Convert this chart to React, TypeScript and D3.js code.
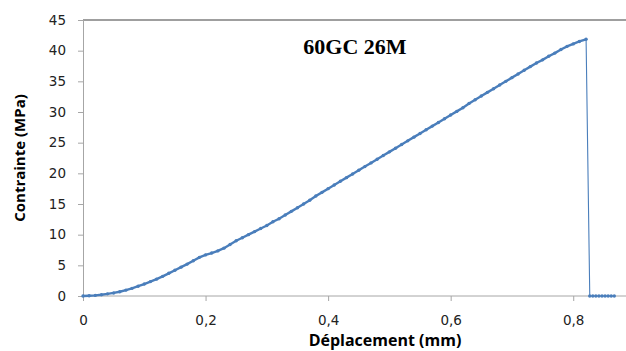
import { useEffect, useRef } from "react";
import * as d3 from "d3";

// Courbe contrainte / déplacement
const deplacement = [
  0, 0.01, 0.02, 0.03, 0.04, 0.05, 0.06, 0.07, 0.08, 0.09, 0.1, 0.11, 0.12,
  0.13, 0.14, 0.15, 0.16, 0.17, 0.18, 0.19, 0.2, 0.21, 0.22, 0.23, 0.24, 0.25,
  0.26, 0.27, 0.28, 0.29, 0.3, 0.31, 0.32, 0.33, 0.34, 0.35, 0.36, 0.37, 0.38,
  0.39, 0.4, 0.41, 0.42, 0.43, 0.44, 0.45, 0.46, 0.47, 0.48, 0.49, 0.5, 0.51,
  0.52, 0.53, 0.54, 0.55, 0.56, 0.57, 0.58, 0.59, 0.6, 0.61, 0.62, 0.63, 0.64,
  0.65, 0.66, 0.67, 0.68, 0.69, 0.7, 0.71, 0.72, 0.73, 0.74, 0.75, 0.76, 0.77,
  0.78, 0.79, 0.8, 0.81, 0.821, 0.827, 0.832, 0.837, 0.842, 0.847, 0.852,
  0.857, 0.862, 0.867,
];
const contrainte = [
  0, 0.05, 0.1, 0.2, 0.35, 0.5, 0.7, 0.95, 1.25, 1.6, 1.95, 2.35, 2.75, 3.2,
  3.7, 4.2, 4.7, 5.2, 5.75, 6.3, 6.7, 7.0, 7.35, 7.8, 8.4, 9.0, 9.5, 10.0,
  10.5, 11.0, 11.5, 12.1, 12.6, 13.2, 13.8, 14.4, 15.0, 15.6, 16.3, 16.9,
  17.5, 18.1, 18.7, 19.3, 19.9, 20.5, 21.1, 21.7, 22.3, 22.9, 23.5, 24.1,
  24.7, 25.3, 25.9, 26.5, 27.1, 27.7, 28.3, 28.9, 29.5, 30.1, 30.7, 31.4,
  32.0, 32.6, 33.2, 33.8, 34.4, 35.0, 35.6, 36.2, 36.8, 37.4, 38.0, 38.5,
  39.1, 39.6, 40.2, 40.7, 41.1, 41.5, 41.85, 0, 0, 0, 0, 0, 0, 0, 0, 0,
];
const yTicks = [0, 5, 10, 15, 20, 25, 30, 35, 40, 45];
const xTicks = [0, 0.2, 0.4, 0.6, 0.8];

export default function App() {
  const svgRef = useRef<SVGSVGElement>(null);
  const width = 626;
  const height = 351;

  useEffect(() => {
    const svg = d3.select(svgRef.current);
    svg.selectAll("*").remove();

    const data = deplacement.map((d, i) => ({ x: d, y: contrainte[i] }));
    // indice du pic (rupture)
    const iPic = d3.maxIndex(data, (d) => d.y);

    const x = d3.scaleLinear().domain([0, 0.9]).range([83, 634.5]);
    const y = d3.scaleLinear().domain([0, 45]).range([296, 20]);

    const tickFont = "DejaVu Sans, Verdana, sans-serif";

    // Bordure du haut
    svg
      .append("line")
      .attr("x1", 83)
      .attr("x2", width)
      .attr("y1", y(45))
      .attr("y2", y(45))
      .attr("stroke", "#404040")
      .attr("stroke-width", 1.2);

    // Axe Y
    const gy = svg
      .append("g")
      .attr("transform", `translate(${x(0)},0)`)
      .call(d3.axisLeft(y).tickValues(yTicks).tickSize(5).tickPadding(12));
    gy.selectAll("path,line").attr("stroke", "#a6a6a6");
    gy.selectAll("text")
      .style("font-family", tickFont)
      .style("font-size", "13.5px")
      .attr("fill", "#222");

    // Axe X
    const gx = svg
      .append("g")
      .attr("transform", `translate(0,${y(0)})`)
      .call(
        d3
          .axisBottom(x)
          .tickValues(xTicks)
          .tickSize(5)
          .tickPadding(14)
          .tickFormat((d) => (d === 0 ? "0" : d3.format(".1f")(d as number).replace(".", ",")))
      );
    gx.select("path").attr("d", `M${x(0)},0H${width}`).attr("stroke", "#a6a6a6");
    gx.selectAll("line").attr("stroke", "#a6a6a6");
    gx.selectAll("text")
      .style("font-family", tickFont)
      .style("font-size", "13.5px")
      .attr("fill", "#222");

    // Courbe
    const line = d3
      .line<{ x: number; y: number }>()
      .x((d) => x(d.x))
      .y((d) => y(d.y));

    svg
      .append("path")
      .datum(data.slice(0, iPic + 1))
      .attr("d", line)
      .attr("fill", "none")
      .attr("stroke", "#4a7ebb")
      .attr("stroke-width", 2.4);

    // chute après rupture, trait fin
    svg
      .append("path")
      .datum(data.slice(iPic))
      .attr("d", line)
      .attr("fill", "none")
      .attr("stroke", "#4a7ebb")
      .attr("stroke-width", 1.1);

    svg
      .append("g")
      .selectAll("circle")
      .data(data)
      .join("circle")
      .attr("cx", (d) => x(d.x))
      .attr("cy", (d) => y(d.y))
      .attr("r", 1.7)
      .attr("fill", "#4a7ebb");

    // Titre
    svg
      .append("text")
      .attr("x", 355)
      .attr("y", 54)
      .attr("text-anchor", "middle")
      .style("font-family", "Liberation Serif, Times New Roman, serif")
      .style("font-weight", "bold")
      .style("font-size", "22px")
      .text("60GC 26M");

    // Titres des axes
    svg
      .append("text")
      .attr("x", 385)
      .attr("y", 346)
      .attr("text-anchor", "middle")
      .style("font-family", "Open Sans, sans-serif")
      .style("font-weight", "bold")
      .style("font-size", "16px")
      .text("Déplacement (mm)");

    svg
      .append("text")
      .attr("transform", `translate(25,158) rotate(-90)`)
      .attr("text-anchor", "middle")
      .style("font-family", "Open Sans, sans-serif")
      .style("font-weight", "bold")
      .style("font-size", "15px")
      .text("Contrainte (MPa)");
  }, []);

  return (
    <svg
      ref={svgRef}
      width={width}
      height={height}
      style={{ position: "absolute", left: 0, top: 0, background: "#fff" }}
    />
  );
}
